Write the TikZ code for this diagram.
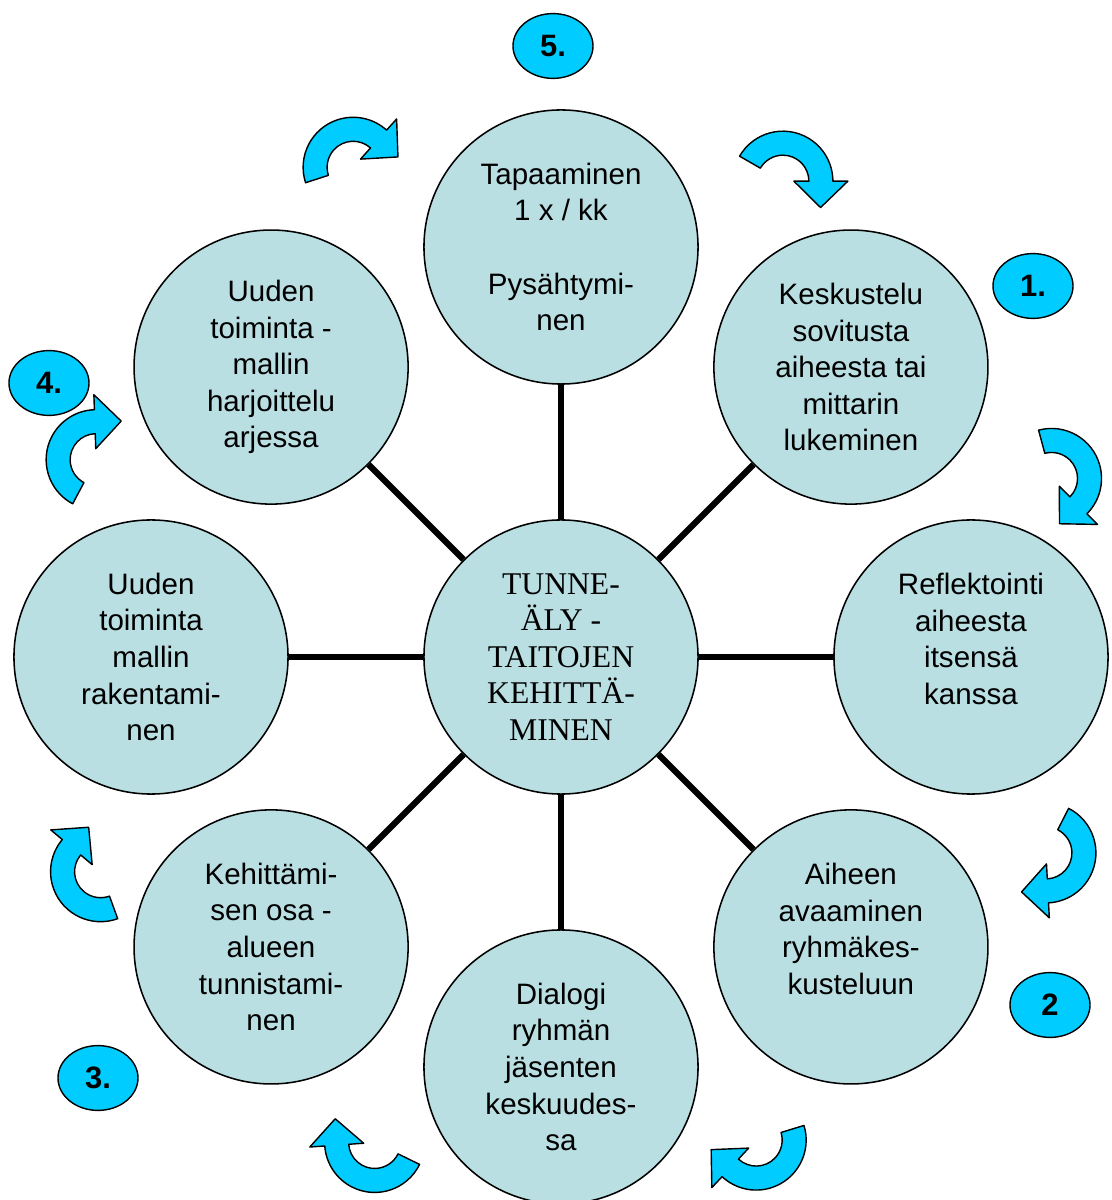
\documentclass[tikz,border=0pt]{standalone}
\usepackage{fontspec}
\setmainfont{Liberation Sans}
\newfontfamily\timesfont{Liberation Serif}
\usetikzlibrary{shapes.geometric}
\tikzset{bubble/.style = {draw, circle, fill=lblue, line width=1.1pt, minimum size=6.85cm,
                          inner sep=0, align=center, font=\fontsize{21}{26}\selectfont}}
\tikzset{badge/.style = {draw, ellipse, fill=cblue, line width=1pt, minimum width=2cm,
                         minimum height=1.62cm, inner sep=0, font=\fontsize{22}{26}\selectfont\bfseries}}
\tikzset{spoke/.style = {line width=4.3pt}}
\tikzset{turn/.style = {draw, fill=cblue, line width=1pt, line join=round}}
\definecolor{lblue}{RGB}{185,223,227}
\definecolor{cblue}{RGB}{0,204,255}

\begin{document}
\begin{tikzpicture}[x=0.025cm, y=0.025cm]
  \useasboundingbox (-561, -543) rectangle (550, 657);
  \node [bubble, font=\timesfont\fontsize{22.5}{26}\selectfont] (c) at (0, 0)
        {TUNNE-\\ÄLY -\\TAITOJEN\\KEHITTÄ-\\MINEN};
  \node [bubble] (meet) at (90:410) {Tapaaminen\\1 x / kk\\[26pt]Pysähtymi-\\nen};
  \node [bubble] (talk) at (45:410) {Keskustelu\\sovitusta\\aiheesta tai\\mittarin\\lukeminen};
  \node [bubble] (refl) at (0:410) {Reflektointi\\aiheesta\\itsensä\\kanssa\\ \mbox{}};
  \node [bubble] (open) at (-45:410) {Aiheen\\avaaminen\\ryhmäkes-\\kusteluun\\ \mbox{}};
  \node [bubble] (dial) at (-90:410) {Dialogi\\ryhmän\\jäsenten\\keskuudes-\\sa};
  \node [bubble] (area) at (-135:410) {Kehittämi-\\sen osa -\\alueen\\tunnistami-\\nen};
  \node [bubble] (build) at (180:410) {Uuden\\toiminta\\mallin\\rakentami-\\nen};
  \node [bubble] (prac) at (135:410) {Uuden\\toiminta -\\mallin\\harjoittelu\\arjessa};
  \foreach \n in {meet, talk, refl, open, dial, area, build, prac}
    \draw [spoke] (c) -- (\n);

  \foreach \a/\r in {113/532, 65/525, 20/522, -22/523, -68/521, -111/520, -155/508, 157/505} {
    \begin{scope}[shift={(\a:\r)}, rotate=\a-90]
      \draw [turn] (175:50) arc [start angle=175, end angle=25, radius=50]
        -- (25:65) -- (-10:46) -- (25:11) -- (25:26)
        arc [start angle=25, end angle=175, radius=26] -- cycle;
    \end{scope}
  }

  \node [badge] (n5) at (-8, 611) {5.};
  \node [badge] (n1) at (472, 371) {1.};
  \node [badge] (n2) at (489, -348) {2};
  \node [badge] (n3) at (-463, -421) {3.};
  \node [badge] (n4) at (-512, 274) {4.};
\end{tikzpicture}
\end{document}
